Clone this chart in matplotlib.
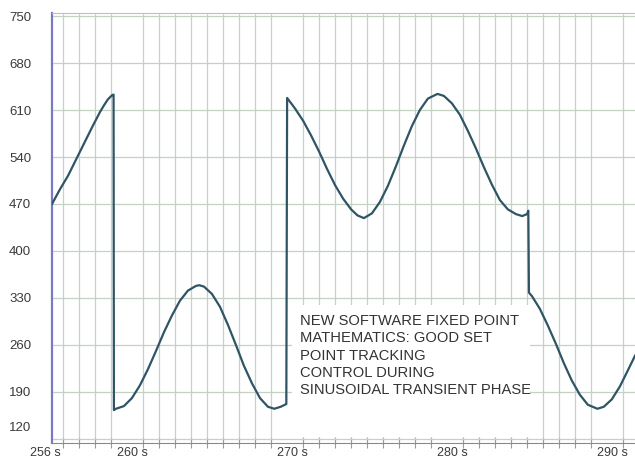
import matplotlib
matplotlib.use("Agg")
import matplotlib.pyplot as plt
from matplotlib.patches import Rectangle
from matplotlib.transforms import ScaledTranslation

plt.rcParams['font.family'] = ['Liberation Sans', 'DejaVu Sans']

# Time (s) and set-point tracking values
time_s = [255.3, 255.8, 256.3, 256.8, 257.3, 257.8, 258.3, 258.55, 258.8, 259.05, 259.15,
          259.17, 259.3, 259.8, 260.3, 260.8, 261.3, 261.8, 262.3, 262.8, 263.3, 263.8,
          264.3, 264.5, 264.8, 265.3, 265.8, 266.3, 266.8, 267.3, 267.8, 268.3, 268.8,
          269.2, 269.6, 269.95,
          270.0, 270.5, 271.0, 271.5, 272.0, 272.5, 273.0, 273.5, 274.0, 274.4, 274.8,
          275.3, 275.8, 276.3, 276.8, 277.3, 277.8, 278.3, 278.8, 279.4, 279.8, 280.3,
          280.8, 281.3, 281.8, 282.3, 282.8, 283.3, 283.8, 284.3, 284.7, 285.0, 285.08,
          285.12, 285.3, 285.8, 286.3, 286.8, 287.3, 287.8, 288.3, 288.8, 289.4, 289.8,
          290.3, 290.8, 291.3, 291.75]
values = [470, 492, 512, 536, 560, 584, 607, 617, 626, 632, 633,
          163, 165, 169, 181, 200, 224, 251, 279, 304, 326, 341,
          348, 349, 347, 336, 317, 290, 260, 229, 203, 181, 168,
          165, 168, 172,
          628, 612, 594, 572, 548, 522, 498, 478, 462, 453, 449,
          456, 473, 497, 526, 557, 586, 610, 627, 634, 631, 620,
          603, 579, 553, 525, 499, 476, 462, 455, 452, 455, 460,
          338, 333, 314, 289, 262, 233, 207, 186, 171, 165, 168,
          179, 198, 222, 244]

y_ticks = [120, 190, 260, 330, 400, 470, 540, 610, 680, 750]
x_tick_pos = [255.3, 260, 270, 280, 290]
x_tick_labels = ["256 s", "260 s", "270 s", "280 s", "290 s"]
x_grid = list(range(256, 292))

note = ("NEW SOFTWARE FIXED POINT\nMATHEMATICS: GOOD SET\nPOINT TRACKING\n"
        "CONTROL DURING\nSINUSOIDAL TRANSIENT PHASE")

W, H = 635, 461
fig = plt.figure(figsize=(W / 100, H / 100), dpi=100)
ax = fig.add_axes([52 / W, 1 - 443 / H, 583 / W, 430 / H])
ax.set_axisbelow(True)

ax.plot(time_s, values, color='#2f5565', lw=1.6, zorder=3, solid_joinstyle='round')

ax.set_xlim(255.3, 291.75)
ax.set_ylim(114, 754.5)

ax.set_yticks(y_ticks)
ax.set_yticklabels([str(v) for v in y_ticks])
ax.set_xticks(x_tick_pos)
ax.set_xticklabels(x_tick_labels)
ax.set_xticks(x_grid, minor=True)

ax.grid(True, which='major', axis='y', color='#c3d2c3', lw=0.9)
ax.grid(True, which='minor', axis='x', color='#c6d2c8', lw=0.9)

ax.tick_params(axis='y', length=0, pad=15, labelsize=9.5, labelcolor='#3a3a3a')
ax.tick_params(axis='x', which='major', length=0, pad=3, labelsize=9, labelcolor='#3a3a3a')
ax.tick_params(axis='x', which='minor', direction='inout', length=7, width=0.8, color='#9a9a9a')

ax.spines['right'].set_visible(False)
ax.spines['left'].set_color('#7a7ac4')
ax.spines['left'].set_linewidth(1.6)
ax.spines['bottom'].set_color('#8a8a8a')
ax.spines['top'].set_color('#b8c4b8')

# label offsets
xl = ax.get_xticklabels()
for i, lab in enumerate(xl):
    dx = -7 if i == 0 else 5
    lab.set_transform(lab.get_transform() + ScaledTranslation(dx / 100, 0, fig.dpi_scale_trans))
yl = ax.get_yticklabels()
yl[0].set_transform(yl[0].get_transform() + ScaledTranslation(0, 12 / 100, fig.dpi_scale_trans))

# white note box hiding the grid
ax.add_patch(Rectangle((270.31, 122.5), 285.19 - 270.31, 320 - 122.5,
                       facecolor='white', edgecolor='none', zorder=0.8))
fig.text(300 / W, 1 - 314 / H, note, ha='left', va='top', fontsize=10.6,
         color='#333333', linespacing=1.3)

fig.savefig('out.png', dpi=100)
